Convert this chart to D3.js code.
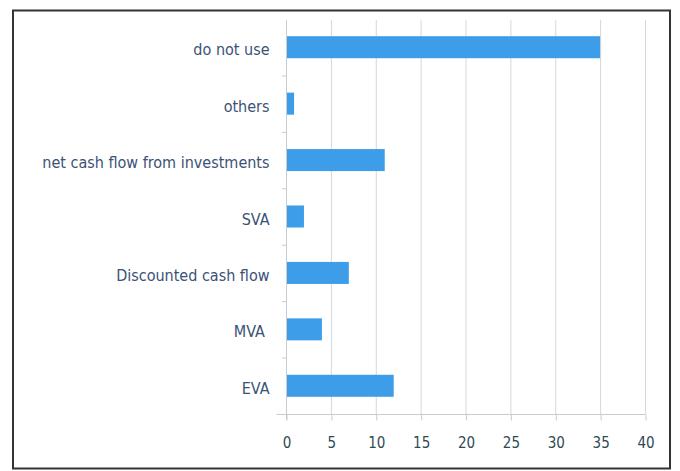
<!DOCTYPE html>
<html>
<head>
<meta charset="utf-8">
<script src="https://cdn.jsdelivr.net/npm/d3@7"></script>
<style>
  body { margin: 0; background: #fff; }
  text { font-family: "Liberation Sans Narrow", "DejaVu Sans Condensed", "Open Sans", sans-serif; }
</style>
</head>
<body>
<script>
var w = 680;
var h = 471;

// methods, top to bottom
var methods = ["do not use", "others", "net cash flow from investments", "SVA",
               "Discounted cash flow", "MVA ", "EVA"];
var counts = [35, 0.9, 11, 2, 7, 4, 12];
var xTicks = [0, 5, 10, 15, 20, 25, 30, 35, 40];

var svg = d3.select("body")
    .append("svg")
    .attr("width", w)
    .attr("height", h);

// outer frame
svg.append("rect")
    .attr("x", 13)
    .attr("y", 10.5)
    .attr("width", 657)
    .attr("height", 458)
    .attr("fill", "none")
    .attr("stroke", "#333")
    .attr("stroke-width", 2);

var x = d3.scaleLinear()
    .domain([0, 40])
    .range([286, 645]);

var y = d3.scaleBand()
    .domain(methods)
    .range([19, 414])
    .paddingInner(0.61)
    .paddingOuter(0.305);

// vertical grid
svg.append("g")
    .selectAll("line")
    .data(xTicks.slice(1))
    .enter()
    .append("line")
    .attr("x1", function(d) { return x(d) + 0.5; })
    .attr("x2", function(d) { return x(d) + 0.5; })
    .attr("y1", 20)
    .attr("y2", 414)
    .attr("stroke", "#d4d7db")
    .attr("stroke-width", 1);

// bars
svg.append("g")
    .selectAll("rect")
    .data(counts)
    .enter()
    .append("rect")
    .attr("x", x(0))
    .attr("y", function(d, i) { return y(methods[i]); })
    .attr("width", function(d) { return x(d) - x(0); })
    .attr("height", y.bandwidth())
    .attr("fill", "#3d9de8");

// x axis
var xAxis = svg.append("g")
    .attr("transform", "translate(0.5,414.5)")
    .call(d3.axisBottom(x).tickValues(xTicks).tickSize(6).tickPadding(17).tickFormat(d3.format("d")));
xAxis.select(".domain").attr("stroke", "#c8ccd0").attr("d", "M" + (x(0) - 10) + ",0H" + x(40));
xAxis.selectAll(".tick line").attr("stroke", "#c8ccd0");
xAxis.selectAll(".tick text")
    .attr("fill", "#2f4a52")
    .attr("font-size", 15)
    .attr("font-family", "Liberation Sans Narrow, DejaVu Sans Condensed, sans-serif");

// y axis
var yAxis = svg.append("g")
    .attr("transform", "translate(" + (x(0) + 0.5) + ",0)")
    .call(d3.axisLeft(y).tickSize(0).tickPadding(17));
yAxis.select(".domain").attr("stroke", "#c8ccd0").attr("d", "M0,20V420");
yAxis.selectAll(".tick text")
    .attr("fill", "#3b5275")
    .attr("font-size", 16)
    .attr("dy", "0.5em")
    .style("white-space", "pre")
    .attr("font-family", "Liberation Sans Narrow, DejaVu Sans Condensed, sans-serif");

// small ticks between categories
svg.append("g")
    .selectAll("line")
    .data(methods.slice(1))
    .enter()
    .append("line")
    .attr("x1", x(0) - 4)
    .attr("x2", x(0))
    .attr("y1", function(d) { return y(d) - y.step() * 0.305 + 0.5; })
    .attr("y2", function(d) { return y(d) - y.step() * 0.305 + 0.5; })
    .attr("stroke", "#c8ccd0");
</script>
</body>
</html>
